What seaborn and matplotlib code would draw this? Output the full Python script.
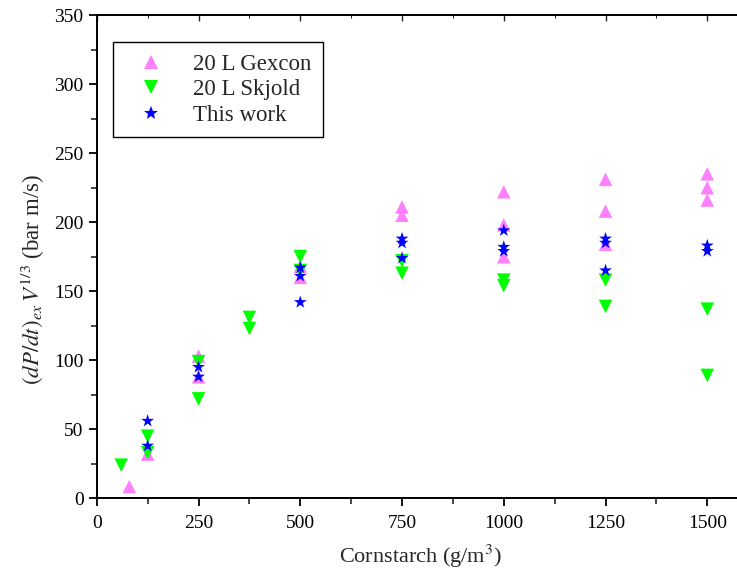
import matplotlib
matplotlib.use("Agg")
import matplotlib.pyplot as plt
import seaborn as sns
import pandas as pd
from matplotlib.ticker import MultipleLocator

# Data
gexcon_x = [80, 125, 250, 250, 500, 500, 750, 750, 1000, 1000, 1000, 1250, 1250, 1250, 1500, 1500, 1500]
gexcon_y = [8.5, 32, 103, 88, 160, 168, 211, 205, 222, 198, 175, 231, 208, 184, 235, 225, 216]

skjold_x = [60, 125, 125, 250, 250, 375, 375, 500, 500, 750, 750, 1000, 1000, 1250, 1250, 1500, 1500]
skjold_y = [24, 45, 33, 99, 72, 131, 123, 175, 165, 172, 163, 158, 154, 158, 139, 137, 89]

work_x = [125, 125, 250, 250, 500, 500, 500, 750, 750, 750, 1000, 1000, 1000, 1250, 1250, 1250, 1500, 1500]
work_y = [56, 38, 95, 88, 167, 161, 142, 188, 185, 174, 194, 182, 179, 188, 185, 165, 183, 179]

series_names = ["20 L Gexcon", "20 L Skjold", "This work"]
colors = {"20 L Gexcon": "#FF80FF", "20 L Skjold": "#00FF00", "This work": "#0000FF"}
markers = {"20 L Gexcon": "^", "20 L Skjold": "v", "This work": "*"}

x_ticks = [0, 250, 500, 750, 1000, 1250, 1500]
y_ticks = [0, 50, 100, 150, 200, 250, 300, 350]

df = pd.concat([
    pd.DataFrame({"x": gexcon_x, "y": gexcon_y, "series": series_names[0]}),
    pd.DataFrame({"x": skjold_x, "y": skjold_y, "series": series_names[1]}),
    pd.DataFrame({"x": work_x, "y": work_y, "series": series_names[2]}),
], ignore_index=True)

sns.set_style("ticks")
plt.rcParams["font.family"] = ["Liberation Serif", "DejaVu Serif"]
plt.rcParams["mathtext.fontset"] = "stix"

fig = plt.figure(figsize=(7.37, 5.79), dpi=100)
ax = fig.add_axes([0.1313, 0.1394, 1.0 - 0.1313, 0.8346])

sns.scatterplot(data=df, x="x", y="y", hue="series", style="series",
                palette=colors, markers=markers, hue_order=series_names,
                style_order=series_names, s=95, linewidth=0, ax=ax, legend=True)

ax.set_xlim(0, 1573)
ax.set_ylim(0, 350)
ax.set_xticks(x_ticks)
ax.set_yticks(y_ticks)
ax.xaxis.set_minor_locator(MultipleLocator(125))
ax.yaxis.set_minor_locator(MultipleLocator(25))
ax.tick_params(axis="both", which="major", direction="out", length=6, width=1.3, labelsize=14, colors="black")
ax.tick_params(axis="x", which="major", pad=6)
ax.tick_params(axis="both", which="minor", direction="out", length=4, width=1.2)

for side in ["left", "bottom", "top"]:
    ax.spines[side].set_visible(True)
    ax.spines[side].set_linewidth(1.4)
    ax.spines[side].set_color("black")
ax.spines["right"].set_visible(False)

top = ax.secondary_xaxis("top")
top.set_xticks(x_ticks)
top.xaxis.set_minor_locator(MultipleLocator(125))
top.tick_params(which="major", direction="in", length=4, width=1.0, labeltop=False)
top.tick_params(which="minor", direction="in", length=2.5, width=0.8)
top.spines["top"].set_linewidth(1.4)

ax.set_xlabel(r"Cornstarch (g/m$^3$)", fontsize=16)
ax.xaxis.set_label_coords(0.505, -0.093)
ax.set_ylabel(r"$(dP/dt)_{ex}\,V^{1/3}$ (bar m/s)", fontsize=16.5)
ax.yaxis.set_label_coords(-0.078, 0.452)

leg = ax.legend(loc="upper left", bbox_to_anchor=(0.025, 0.944), borderaxespad=0,
                fontsize=16.5, frameon=True, fancybox=False, title=None,
                handletextpad=0.7, borderpad=0.5, labelspacing=0.2,
                handlelength=2.3, markerscale=1.1)
leg.get_frame().set_edgecolor("black")
leg.get_frame().set_linewidth(1.0)
leg.get_frame().set_alpha(1)

fig.savefig("out.png", dpi=100)
